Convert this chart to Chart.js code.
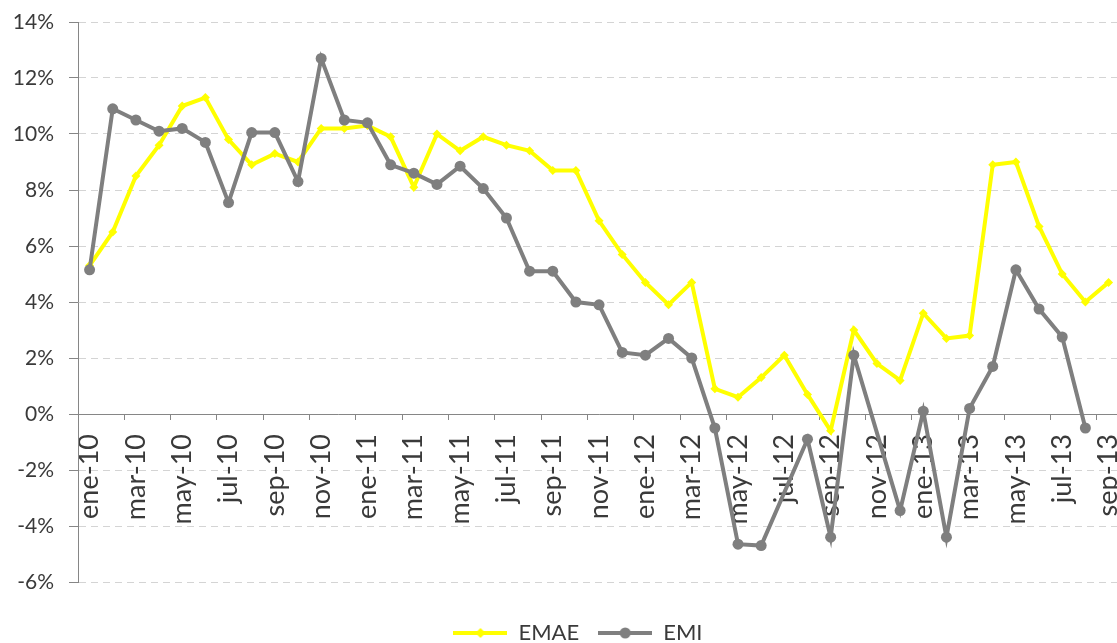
<!DOCTYPE html>
<html>
<head>
<meta charset="utf-8">
<title>EMAE vs EMI</title>
<script src="https://cdn.jsdelivr.net/npm/chart.js@4.4.1/dist/chart.umd.min.js"></script>
<style>
    html, body { margin: 0; padding: 0; background: #ffffff; overflow: hidden; }
    #myChart { display: block; }
</style>
</head>
<body>
<canvas id="myChart" width="1156" height="654"></canvas>
<script>
// months, ene-10 .. sep-13
var months = ['ene-10','feb-10','mar-10','abr-10','may-10','jun-10','jul-10','ago-10','sep-10','oct-10','nov-10','dic-10',
              'ene-11','feb-11','mar-11','abr-11','may-11','jun-11','jul-11','ago-11','sep-11','oct-11','nov-11','dic-11',
              'ene-12','feb-12','mar-12','abr-12','may-12','jun-12','jul-12','ago-12','sep-12','oct-12','nov-12','dic-12',
              'ene-13','feb-13','mar-13','abr-13','may-13','jun-13','jul-13','ago-13','sep-13'];

// year on year change, %
var emae = [5.3, 6.5, 8.5, 9.6, 11.0, 11.3, 9.8, 8.9, 9.3, 9.0, 10.2, 10.2,
            10.3, 9.9, 8.1, 10.0, 9.4, 9.9, 9.6, 9.4, 8.7, 8.7, 6.9, 5.7,
            4.7, 3.9, 4.7, 0.9, 0.6, 1.3, 2.1, 0.7, -0.6, 3.0, 1.8, 1.2,
            3.6, 2.7, 2.8, 8.9, 9.0, 6.7, 5.0, 4.0, 4.7];

// EMI has a couple of empty months (jul-12, nov-12) and ends in ago-13
var emi = [5.15, 10.9, 10.5, 10.1, 10.2, 9.7, 7.55, 10.05, 10.05, 8.3, 12.7, 10.5,
           10.4, 8.9, 8.6, 8.2, 8.85, 8.05, 7.0, 5.1, 5.1, 4.0, 3.9, 2.2,
           2.1, 2.7, 2.0, -0.5, -4.65, -4.7, null, -0.9, -4.4, 2.1, null, -3.45,
           0.1, -4.4, 0.2, 1.7, 5.15, 3.75, 2.75, -0.5, null];

var yTicks = [-6, -4, -2, 0, 2, 4, 6, 8, 10, 12, 14];

var yellow = '#ffff00';
var grey = '#7f7f7f';
var axisGrey = '#868686';
var textColor = '#3a3a3a';

// little line + marker pictures for the legend
function legendIcon(color, marker) {
    var c = document.createElement('canvas');
    c.width = 54;
    c.height = 14;
    var ctx = c.getContext('2d');
    ctx.strokeStyle = color;
    ctx.lineWidth = 4;
    ctx.beginPath();
    ctx.moveTo(0, 7);
    ctx.lineTo(54, 7);
    ctx.stroke();
    ctx.fillStyle = color;
    ctx.beginPath();
    if (marker === 'diamond') {
        ctx.moveTo(27, 2); ctx.lineTo(32, 7); ctx.lineTo(27, 12); ctx.lineTo(22, 7);
    } else {
        ctx.arc(27, 7, 5.5, 0, Math.PI * 2);
    }
    ctx.closePath();
    ctx.fill();
    return c;
}

var dataForChart = {
    labels: months,
    datasets: [
        {
            label: 'EMAE',
            data: emae,
            borderColor: yellow,
            backgroundColor: yellow,
            borderWidth: 4,
            pointStyle: 'rectRot',
            pointRadius: 4.5,
            pointBorderWidth: 0,
            pointBackgroundColor: yellow,
            tension: 0,
            order: 1
        },
        {
            label: 'EMI',
            data: emi,
            borderColor: grey,
            backgroundColor: grey,
            borderWidth: 4,
            pointStyle: 'circle',
            pointRadius: 5.5,
            pointBorderWidth: 0,
            pointBackgroundColor: grey,
            spanGaps: true,
            tension: 0,
            order: 0
        }
    ]
};

var icons = [legendIcon(yellow, 'diamond'), legendIcon(grey, 'circle')];

var myChart = new Chart(document.getElementById('myChart'), {
    type: 'line',
    data: dataForChart,
    options: {
        responsive: false,
        animation: false,
        layout: { padding: { left: 0, right: 0, top: 22, bottom: 0 } },
        plugins: {
            tooltip: { enabled: false },
            legend: {
                position: 'bottom',
                // empty title only to push the legend row down a bit
                title: { display: true, text: '', font: { size: 21, lineHeight: 1 }, padding: 0 },
                labels: {
                    usePointStyle: true,
                    pointStyleWidth: 54,
                    padding: 19,
                    color: textColor,
                    font: { family: 'Lato', size: 22 },
                    generateLabels: function (chart) {
                        return chart.data.datasets.map(function (ds, i) {
                            return {
                                text: ds.label,
                                datasetIndex: i,
                                pointStyle: icons[i],
                                fillStyle: ds.borderColor,
                                strokeStyle: ds.borderColor,
                                lineWidth: 0,
                                fontColor: textColor,
                                hidden: false
                            };
                        });
                    }
                }
            }
        },
        scales: {
            x: {
                type: 'category',
                offset: true,
                position: { y: 0 },
                border: { color: axisGrey, width: 1 },
                grid: {
                    offset: true,
                    drawOnChartArea: false,
                    tickLength: 5,
                    tickColor: function (ctx) { return ctx.index % 2 === 0 ? axisGrey : 'rgba(0,0,0,0)'; }
                },
                ticks: {
                    autoSkip: false,
                    minRotation: 90,
                    maxRotation: 90,
                    padding: 15,
                    color: textColor,
                    font: { family: 'Lato', size: 27 },
                    callback: function (value, index) {
                        return index % 2 === 0 ? months[index] : '';
                    }
                }
            },
            y: {
                min: yTicks[0],
                max: yTicks[yTicks.length - 1],
                afterFit: function (scale) {
                    // fixed axis width, and no extra room above/below for the labels
                    scale.width = 78;
                    scale.paddingTop = 0;
                    scale.paddingBottom = 0;
                },
                afterBuildTicks: function (scale) {
                    scale.ticks = yTicks.map(function (v) { return { value: v }; });
                },
                border: { color: axisGrey, width: 1, dash: [7, 5] },
                grid: {
                    color: '#d4d4d4',
                    tickColor: axisGrey,
                    tickLength: 9,
                    tickBorderDash: []
                },
                ticks: {
                    padding: 15,
                    color: textColor,
                    font: { family: 'Lato', size: 21 },
                    callback: function (value) { return value + '%'; }
                }
            }
        }
    }
});
</script>
</body>
</html>
